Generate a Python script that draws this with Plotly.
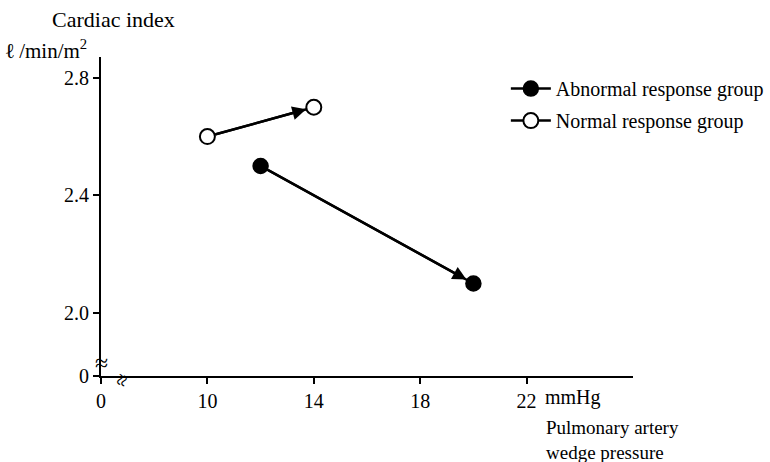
import plotly.graph_objects as go

# Data (x axis broken: axis value 6 is labelled "0"; y axis broken: 1.785 labelled "0")
abn_x = [12, 20]
abn_y = [2.5, 2.1]
norm_x = [10, 14]
norm_y = [2.6, 2.7]

x_tickvals = [6, 10, 14, 18, 22]
x_ticktext = ["0", "10", "14", "18", "22"]
y_tickvals = [1.785, 2.0, 2.4, 2.8]
y_ticktext = ["0", "2.0", "2.4", "2.8"]

FONT = "Liberation Serif"
fig = go.Figure()

fig.add_trace(go.Scatter(
    x=abn_x, y=abn_y, mode="lines+markers", name="Abnormal response group",
    legendgroup="a",
    line=dict(color="black", width=2.5),
    marker=dict(size=15, color="black", line=dict(color="black", width=1.5)),
))
fig.add_trace(go.Scatter(
    x=norm_x, y=norm_y, mode="lines+markers", name="Normal response group",
    legendgroup="b",
    line=dict(color="black", width=2.5),
    marker=dict(size=15, color="white", line=dict(color="black", width=2)),
))

anns = []
for xs, ys in ((abn_x, abn_y), (norm_x, norm_y)):
    anns.append(dict(x=xs[1], y=ys[1], ax=xs[0], ay=ys[0], xref="x", yref="y",
                     axref="x", ayref="y", showarrow=True, arrowhead=2,
                     arrowsize=1.1, arrowwidth=2.5, arrowcolor="black",
                     standoff=8, startstandoff=7, text=""))

tf = dict(family=FONT, size=20, color="black")
anns += [
    dict(text="Cardiac index", xref="paper", yref="paper", x=-0.096, y=1.116,
         xanchor="left", yanchor="middle", showarrow=False,
         font=dict(family=FONT, size=22, color="black")),
    dict(text="<b>ℓ</b> /min/m<sup>2</sup>", xref="paper", yref="paper", x=-0.183, y=1.025,
         xanchor="left", yanchor="middle", showarrow=False,
         font=dict(family=FONT, size=21, color="black")),
    dict(text="mmHg", xref="x", yref="paper", x=22, y=-0.066, xshift=16,
         xanchor="left", yanchor="middle", showarrow=False, font=tf),
    dict(text="Pulmonary artery<br>wedge pressure", xref="x", yref="paper", x=22, y=-0.2,
         xanchor="left", yanchor="middle", align="left", showarrow=False,
         xshift=17, font=dict(family=FONT, size=19, color="black")),
    dict(text="≈", xref="paper", yref="y", x=0, y=1.83, xanchor="center",
         yanchor="middle", showarrow=False,
         font=dict(family=FONT, size=24, color="black")),
    dict(text="≈", xref="x", yref="paper", x=6.8, y=-0.012, xanchor="center",
         yanchor="middle", showarrow=False, textangle=-70,
         font=dict(family=FONT, size=22, color="black")),
]

fig.update_layout(
    width=770, height=462,
    margin=dict(l=101, r=137, t=57, b=86, autoexpand=False),
    paper_bgcolor="white", plot_bgcolor="white",
    font=dict(family=FONT, size=20, color="black"),
    showlegend=True,
    legend=dict(x=0.761, y=0.962, xanchor="left", yanchor="top",
                font=dict(family=FONT, size=20, color="black"),
                bgcolor="rgba(0,0,0,0)", tracegroupgap=3, itemwidth=40),
    xaxis=dict(range=[6, 26], tickvals=x_tickvals, ticktext=x_ticktext,
               showline=True, linecolor="black", linewidth=2, ticks="outside",
               ticklen=6, tickwidth=2, tickcolor="black", showgrid=False,
               zeroline=False, tickfont=tf),
    yaxis=dict(range=[1.785, 2.871], tickvals=y_tickvals, ticktext=y_ticktext,
               showline=True, linecolor="black", linewidth=2, ticks="outside",
               ticklen=6, tickwidth=2, tickcolor="black", showgrid=False,
               zeroline=False, tickfont=tf),
    annotations=anns,
    shapes=[dict(type="line", xref="paper", yref="paper", x0=0, x1=0, y0=0, y1=-0.022,
                 line=dict(color="black", width=2))],
)

fig.write_html(
    "out.html",
    config={"displayModeBar": False},
    post_script="document.body.style.margin='0px';"
                "document.body.style.overflow='hidden';"
                "document.documentElement.style.overflow='hidden';",
)
